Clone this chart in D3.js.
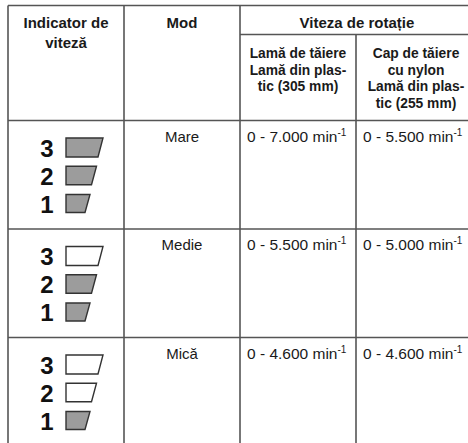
<!DOCTYPE html>
<html><head><meta charset="utf-8">
<script src="https://cdn.jsdelivr.net/npm/d3@7/dist/d3.min.js"></script>
<style>
html,body{margin:0;padding:0;background:#fff;}
svg{display:block;font-family:"Liberation Sans",Arial,Helvetica,sans-serif;}
</style></head>
<body>
<svg id="c" width="468" height="443"></svg>
<script>
// ---- data ----
const modes = ["Mare", "Medie", "Mică"];
const activeLevels = [3, 2, 1];           // number of filled indicator segments
const indicatorLevels = [3, 2, 1];
const bladeSpeeds = ["0 - 7.000", "0 - 5.500", "0 - 4.600"];
const nylonSpeeds = ["0 - 5.500", "0 - 5.000", "0 - 4.600"];
const speedUnit = "min";
const speedExp = "-1";
const headMain = ["Indicator de", "viteză"];
const headMode = "Mod";
const headSpeed = "Viteza de rotație";
const headBlade = ["Lamă de tăiere", "Lamă din plas-", "tic (305 mm)"];
const headNylon = ["Cap de tăiere", "cu nylon", "Lamă din plas-", "tic (255 mm)"];

// ---- layout ----
const svg = d3.select("#c");
const lineC = "#555", txtC = "#1a1a1a";
const colX = [8, 124, 240, 356, 476];
const tableTop = 5.5, subTop = 34.5, headBottom = 120.5;
const rowY = d3.scaleBand().domain(modes).range([headBottom, headBottom + 3 * 108.5]).padding(0);

const g = svg.append("g");

// grid lines
const L = (x1, y1, x2, y2) => g.append("line").attr("x1", x1).attr("y1", y1).attr("x2", x2).attr("y2", y2)
  .attr("stroke", lineC).attr("stroke-width", 1.6);
const bottomY = 460;
L(colX[0], tableTop, colX[4], tableTop);
L(colX[2], subTop, colX[4], subTop);
L(colX[0], headBottom, colX[4], headBottom);
modes.forEach((m, i) => { if (i > 0) L(colX[0], rowY(m), colX[4], rowY(m)); });
L(colX[0], tableTop, colX[0], bottomY);
L(colX[1], tableTop, colX[1], bottomY);
L(colX[2], tableTop, colX[2], bottomY);
L(colX[3], subTop, colX[3], bottomY);

// headers
function multi(lines, cx, y0, lh, size) {
  const t = g.append("text").attr("text-anchor", "middle").attr("font-weight", "bold")
    .attr("font-size", size).attr("fill", txtC);
  lines.forEach((s, i) => t.append("tspan").attr("x", cx).attr("y", y0 + i * lh).text(s));
}
multi(headMain, (colX[0] + colX[1]) / 2, 28, 20, "15px");
multi([headMode], (colX[1] + colX[2]) / 2, 28, 20, "15px");
multi([headSpeed], (colX[2] + colX[4]) / 2 - 1, 28, 20, "15px");
multi(headBlade, (colX[2] + colX[3]) / 2, 58, 16.5, "13.8px");
multi(headNylon, (colX[3] + colX[4]) / 2, 58, 16.5, "13.8px");

// rows
const lvlY = d3.scalePoint().domain(indicatorLevels).range([0, 56]);
const segW = d3.scaleLinear().domain([1, 3]).range([24, 37]);
const segH = d3.scaleLinear().domain([1, 3]).range([18, 19]);

modes.forEach((m, i) => {
  const y0 = rowY(m);
  // mode label
  g.append("text").attr("x", (colX[1] + colX[2]) / 2).attr("y", y0 + 21).attr("text-anchor", "middle")
    .attr("font-size", "15px").attr("fill", txtC).text(m);
  // speeds
  [[bladeSpeeds[i], colX[2]], [nylonSpeeds[i], colX[3]]].forEach(([v, x]) => {
    const t = g.append("text").attr("x", x + 7).attr("y", y0 + 21).attr("font-size", "15.5px").attr("fill", txtC);
    t.append("tspan").text(v + " " + speedUnit);
    t.append("tspan").attr("font-size", "10px").attr("dy", -6).text(speedExp);
  });
  // indicator
  indicatorLevels.forEach(lv => {
    const cy = y0 + 27 + lvlY(lv);
    g.append("text").attr("x", 47).attr("y", cy + 9).attr("text-anchor", "middle")
      .attr("font-size", "24px").attr("font-weight", "bold").attr("fill", "#111").text(lv);
    const w = segW(lv), h = segH(lv), x = 66, yT = cy - h / 2;
    const slant = 5;
    g.append("path")
      .attr("d", `M${x},${yT} L${x + w},${yT} L${x + w - slant},${yT + h} L${x},${yT + h} Z`)
      .attr("fill", lv <= activeLevels[i] ? "#9c9c9c" : "#fff")
      .attr("stroke", "#333").attr("stroke-width", 1.4);
  });
});
</script>
</body></html>
